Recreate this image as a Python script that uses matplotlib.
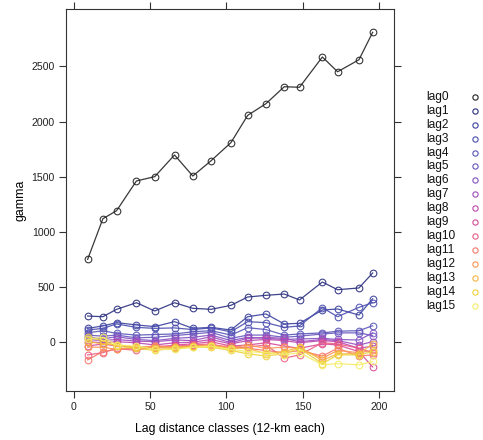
import matplotlib
matplotlib.use("Agg")
import matplotlib.pyplot as plt
from matplotlib.lines import Line2D

plt.rcParams['font.family'] = ['Liberation Sans', 'DejaVu Sans']

dist = [9, 19, 28, 41, 53, 66, 78, 90, 103, 114, 126, 138, 148, 163, 173, 187, 196]

lag0 = [748, 1117, 1190, 1460, 1499, 1696, 1505, 1644, 1808, 2056, 2162, 2316, 2311, 2586, 2452, 2561, 2810]
lag1 = [233, 227, 294, 354, 279, 354, 303, 294, 330, 406, 421, 433, 379, 542, 472, 488, 624]
lag2 = [121, 143, 173, 152, 137, 182, 121, 130, 106, 227, 252, 161, 167, 288, 297, 242, 390]
lag3 = [106, 121, 161, 130, 121, 125, 110, 125, 90, 182, 173, 130, 143, 309, 227, 312, 354]
lag4 = [80, 100, 75, 60, 65, 70, 90, 100, 60, 127, 110, 60, 70, 80, 95, 100, 145]
lag5 = [60, 50, 60, 35, 40, 55, 70, 85, 30, 60, 60, 40, 50, 70, 80, 80, 55]
lag6 = [40, 25, 45, 20, 10, 30, 40, 60, 10, 40, 30, 20, 25, 30, 20, 15, 80]
lag7 = [20, 10, 20, 5, 0, 15, 10, 45, -10, 30, 40, 30, 0, 20, 10, -30, 0]
lag8 = [0, -10, 0, -10, -30, -10, -5, 20, -20, 10, 20, 10, -10, 10, 0, -60, -40]
lag9 = [-40, -20, -40, -50, -60, -30, -20, 0, -40, -30, -10, -40, -60, -20, -30, -90, -230]
lag10 = [-120, -100, -60, -80, -40, -40, -30, -20, -60, -50, -30, -150, -120, -10, -20, -60, -100]
lag11 = [-165, -90, -70, -60, -50, -60, -40, -40, -40, -60, -80, -100, -80, -130, -60, -130, -120]
lag12 = [-50, -50, -70, -50, -40, -50, -40, -30, -60, -30, -60, -50, -60, -150, -80, -100, -80]
lag13 = [0, -20, -30, -50, -60, -50, -40, -40, -60, -60, -110, -90, -50, -170, -110, -110, -20]
lag14 = [40, 10, -40, -60, -80, -60, -50, -50, -80, -110, -130, -110, -60, -200, -120, -120, -90]
lag15 = [20, 40, -30, -40, -70, -70, -50, -40, -70, -90, -100, -120, -100, -210, -200, -210, -180]

series = [lag0, lag1, lag2, lag3, lag4, lag5, lag6, lag7, lag8, lag9,
          lag10, lag11, lag12, lag13, lag14, lag15]
labels = [f"lag{i}" for i in range(16)]
colors = ["#222222", "#2A2E7E", "#3A409E", "#4A4DAE", "#5856B8", "#6A56BE",
          "#8352C2", "#9E4EBC", "#BC49AE", "#D84A98", "#EC5E84", "#F6776C",
          "#FC9556", "#F6B440", "#EDD23A", "#F4EC66"]

xticks = [0, 50, 100, 150, 200]
yticks = [0, 500, 1000, 1500, 2000, 2500]

W, H = 483, 440
fig = plt.figure(figsize=(W / 100, H / 100), dpi=100)
ax = fig.add_axes([66 / W, 1 - 391 / H, (394 - 66) / W, (391 - 9) / H])

for vals, col in zip(series, colors):
    ax.plot(dist, vals, color=col, lw=0.9, marker='o', ms=4.8, mfc='none',
            mec=col, mew=0.8, alpha=0.9)

ax.set_xlim(-5.2, 210)
ax.set_ylim(-448, 3022)
ax.set_xticks(xticks)
ax.set_yticks(yticks)
ax.tick_params(direction='out', length=5, width=0.8, colors='#333333',
               labelsize=7.6, top=True, right=True, labeltop=False, labelright=False)
ax.tick_params(axis='both', labelcolor='#222222', pad=3)
for s in ax.spines.values():
    s.set_color('#333333')
    s.set_linewidth(0.8)

ax.set_xlabel("Lag distance classes (12-km each)", fontsize=8.8, labelpad=8)
ax.set_ylabel("gamma", fontsize=8.8, labelpad=4)

# key on the right
for i, (lab, col) in enumerate(zip(labels, colors)):
    yc = 1 - (97 + 13.9 * i) / H
    fig.text(426 / W, yc, lab, fontsize=8.6, ha='left', va='center', color='#111111')
    fig.add_artist(Line2D([475 / W], [yc], transform=fig.transFigure,
                          marker='o', ms=3.8, mfc='none', mec=col, mew=0.8, ls='none'))

fig.savefig("out.png", dpi=100)
